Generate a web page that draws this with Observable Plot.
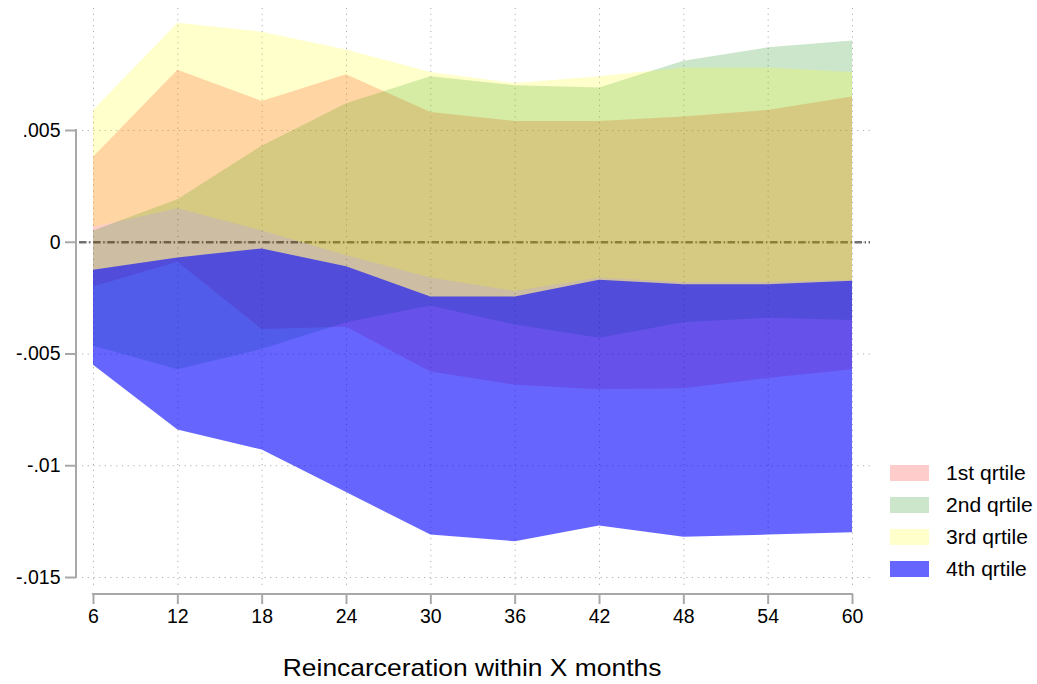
<!DOCTYPE html>
<html>
<head>
<meta charset="utf-8">
<script src="https://cdn.jsdelivr.net/npm/d3@7"></script>
<script src="https://cdn.jsdelivr.net/npm/@observablehq/plot@0.6"></script>
<style>
  html, body { margin: 0; padding: 0; background: #fff; }
  #wrap { position: relative; width: 1037px; height: 684px; font-family: "Liberation Sans", Arial, sans-serif; }
  #legend { position: absolute; left: 890px; top: 457px; }
  .row { display: flex; align-items: center; height: 32px; }
  .sw { width: 39px; height: 16px; margin-right: 17px; }
  .lb { font-size: 19.5px; color: #000; transform: scaleX(1.08); transform-origin: left center; white-space: nowrap; }
  #xtitle { position: absolute; left: 93px; width: 759px; top: 654px; text-align: center; font-size: 24px; color: #000; }
  #xtitle span { display: inline-block; transform: scaleX(1.1); }
</style>
</head>
<body>
<div id="wrap">
  <div id="chart"></div>
  <div id="legend"></div>
  <div id="xtitle"><span>Reincarceration within X months</span></div>
</div>
<script>
// ---- data ----
const months = [6, 12, 18, 24, 30, 36, 42, 48, 54, 60];

const q1Hi = [0.0038, 0.0077, 0.0063, 0.0075, 0.0058, 0.0054, 0.0054, 0.0056, 0.0059, 0.0065];
const q1Lo = [-0.0020, -0.0009, -0.0039, -0.0038, -0.0058, -0.0064, -0.0066, -0.00655, -0.0061, -0.0057];

const q2Hi = [0.0005, 0.0019, 0.0043, 0.0062, 0.0074, 0.0070, 0.0069, 0.0081, 0.0087, 0.0090];
const q2Lo = [-0.00465, -0.0057, -0.0048, -0.0036, -0.00285, -0.0037, -0.0043, -0.0036, -0.0034, -0.0035];

const q3Hi = [0.0059, 0.0098, 0.0094, 0.0086, 0.0076, 0.0071, 0.0074, 0.0078, 0.0078, 0.0076];
const q3Lo = [0.00066, 0.0015, 0.0005, -0.0006, -0.0016, -0.0022, -0.0016, -0.0018, -0.0018, -0.0017];

const q4Hi = [-0.00125, -0.0007, -0.0003, -0.0011, -0.00245, -0.00245, -0.0017, -0.0019, -0.0019, -0.00175];
const q4Lo = [-0.0055, -0.0084, -0.0093, -0.0112, -0.0131, -0.0134, -0.0127, -0.0132, -0.0131, -0.0130];

const seriesNames = ["1st qrtile", "2nd qrtile", "3rd qrtile", "4th qrtile"];
const seriesColors = ["#ff0000", "#008000", "#ffff00", "#0000ff"];
const seriesOpacity = [0.2, 0.2, 0.2, 0.6];

const xTicks = [6, 12, 18, 24, 30, 36, 42, 48, 54, 60];
const yTicks = [-0.015, -0.01, -0.005, 0, 0.005];
const yTickLabels = ["-.015", "-.01", "-.005", "0", ".005"];
const xLabel = "Reincarceration within X months";

// ---- build tables ----
const bands = [[q1Lo, q1Hi], [q2Lo, q2Hi], [q3Lo, q3Hi], [q4Lo, q4Hi]].map(([lo, hi]) =>
  months.map((m, i) => ({month: m, lo: lo[i], hi: hi[i]}))
);

function axisLines(index, {x, y}, values, {height, marginLeft, marginBottom}) {
  const g = d3.create("svg:g").attr("stroke", "#a8a8a8").attr("stroke-width", 2).attr("fill", "none");
  g.append("line")
    .attr("x1", marginLeft).attr("x2", marginLeft)
    .attr("y1", y(d3.max(yTicks)) - 1).attr("y2", y(d3.min(yTicks)) + 1);
  g.append("line")
    .attr("x1", x(d3.min(xTicks)) - 1).attr("x2", x(d3.max(xTicks)) + 1)
    .attr("y1", height - marginBottom).attr("y2", height - marginBottom);
  return g.node();
}

const chart = Plot.plot({
  width: 1037,
  height: 684,
  marginLeft: 76,
  marginRight: 167,
  marginTop: 8,
  marginBottom: 90,
  style: {fontFamily: "'Liberation Sans', Arial, sans-serif", fontSize: "19.5px", color: "#000", background: "#fff"},
  x: {domain: [6, 60], range: [93, 852]},
  y: {domain: [-0.015, 0.005], range: [577, 130]},
  marks: [
    Plot.gridY(yTicks, {stroke: "#b0b0b0", strokeOpacity: 1, strokeWidth: 1, strokeDasharray: "1.2,4.5", insetLeft: 6}),
    Plot.gridX(xTicks, {stroke: "#b0b0b0", strokeOpacity: 1, strokeWidth: 1, strokeDasharray: "1.2,4.5", insetBottom: 7}),
    Plot.ruleY([0], {stroke: "#707070", strokeWidth: 2.6, strokeDasharray: "7.5,2.6,1.4,2.6", insetLeft: 3}),
    ...bands.map((b, k) => Plot.areaY(b, {
      x: "month", y1: "lo", y2: "hi",
      fill: seriesColors[k], fillOpacity: seriesOpacity[k]
    })),
    Plot.axisY(yTicks, {
      anchor: "left", tickSize: 11, tickPadding: 5, stroke: "#a8a8a8", strokeWidth: 2,
      tickFormat: d => yTickLabels[yTicks.indexOf(d)], label: null, fill: "#000"
    }),
    Plot.axisX(xTicks, {
      anchor: "bottom", tickSize: 10, tickPadding: 5, stroke: "#a8a8a8", strokeWidth: 2,
      tickFormat: d => String(d), label: null, fill: "#000"
    }),
    axisLines
  ]
});
document.getElementById("chart").appendChild(chart);

// ---- legend ----
const legend = document.getElementById("legend");
seriesNames.forEach((name, k) => {
  const row = document.createElement("div");
  row.className = "row";
  const sw = document.createElement("div");
  sw.className = "sw";
  sw.style.background = seriesColors[k];
  sw.style.opacity = seriesOpacity[k];
  const lb = document.createElement("div");
  lb.className = "lb";
  lb.textContent = name;
  row.appendChild(sw);
  row.appendChild(lb);
  legend.appendChild(row);
});
document.querySelector("#xtitle span").textContent = xLabel;
</script>
</body>
</html>
